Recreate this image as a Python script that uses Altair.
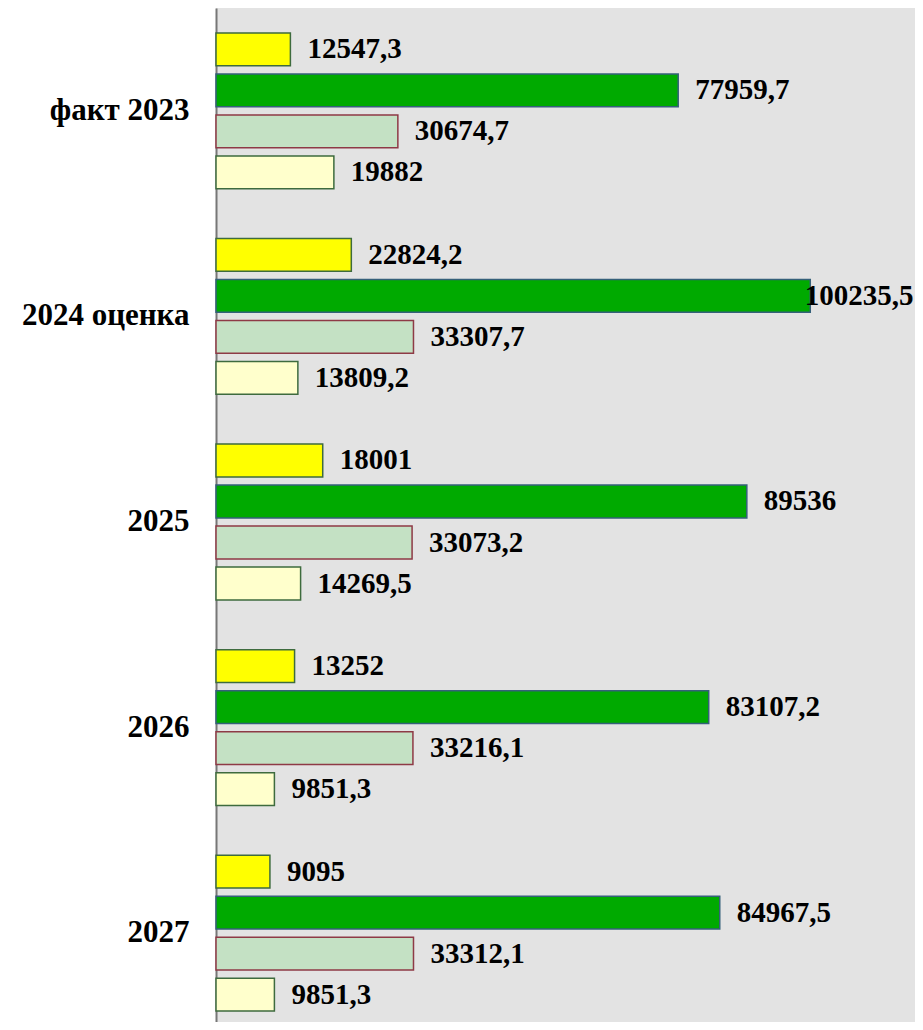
import altair as alt
import pandas as pd

categories = ["факт 2023", "2024 оценка", "2025", "2026", "2027"]
series = ["Ряд 1", "Ряд 2", "Ряд 3", "Ряд 4"]
s1 = [12547.3, 22824.2, 18001, 13252, 9095]
s2 = [77959.7, 100235.5, 89536, 83107.2, 84967.5]
s3 = [30674.7, 33307.7, 33073.2, 33216.1, 33312.1]
s4 = [19882, 13809.2, 14269.5, 9851.3, 9851.3]

fills = ["#FFFF00", "#00AA00", "#C4E1C4", "#FFFFCC"]
strokes = ["#3E6B3E", "#35607A", "#8E3A46", "#3E6B3E"]


def fmt(v):
    return ("%.1f" % v).rstrip("0").rstrip(".").replace(".", ",")


rows = []
for name, vals in zip(series, [s1, s2, s3, s4]):
    for c, v in zip(categories, vals):
        rows.append({"cat": c, "series": name, "value": v, "label": fmt(v)})
df = pd.DataFrame(rows)

xscale = alt.Scale(domain=[0, 117900], nice=False, zero=True)
yscale = alt.Scale(domain=categories, range=[0, 1028], paddingInner=0, paddingOuter=0)
yoff = alt.YOffset("series:N", sort=series,
                   scale=alt.Scale(domain=series, paddingInner=0.2, paddingOuter=0.607))

base = alt.Chart(df)

bars = base.mark_bar(strokeWidth=1.5, cornerRadius=0).encode(
    y=alt.Y("cat:N", sort=categories, scale=yscale,
            axis=alt.Axis(title=None, ticks=False, grid=False, domainColor="#777777",
                          domainWidth=2, labelFont="Liberation Serif", labelFontSize=31,
                          labelFontWeight="bold", labelColor="#000000", labelPadding=27,
                          labelLimit=300)),
    x=alt.X("value:Q", scale=xscale, axis=None),
    yOffset=yoff,
    fill=alt.Fill("series:N", scale=alt.Scale(domain=series, range=fills), legend=None),
    stroke=alt.Stroke("series:N", scale=alt.Scale(domain=series, range=strokes), legend=None),
)

texts = base.transform_calculate(
    lx="min(datum.value + 2867, 99300)"
).mark_text(align="left", baseline="middle", font="Liberation Serif", fontSize=29,
            fontWeight="bold", color="#000000").encode(
    y=alt.Y("cat:N", sort=categories, scale=yscale),
    x=alt.X("lx:Q", scale=xscale, axis=None),
    yOffset=yoff,
    text="label:N",
)

chart = (bars + texts).properties(
    width=699, height=1014,
    background="#FFFFFF",
    autosize=alt.AutoSizeParams(type="none"),
    padding={"left": 208, "top": 0, "right": 0, "bottom": 0},
).configure_view(fill="#E3E3E3", stroke=None)

chart.save("out.html", embed_options={"renderer": "svg", "actions": False})
